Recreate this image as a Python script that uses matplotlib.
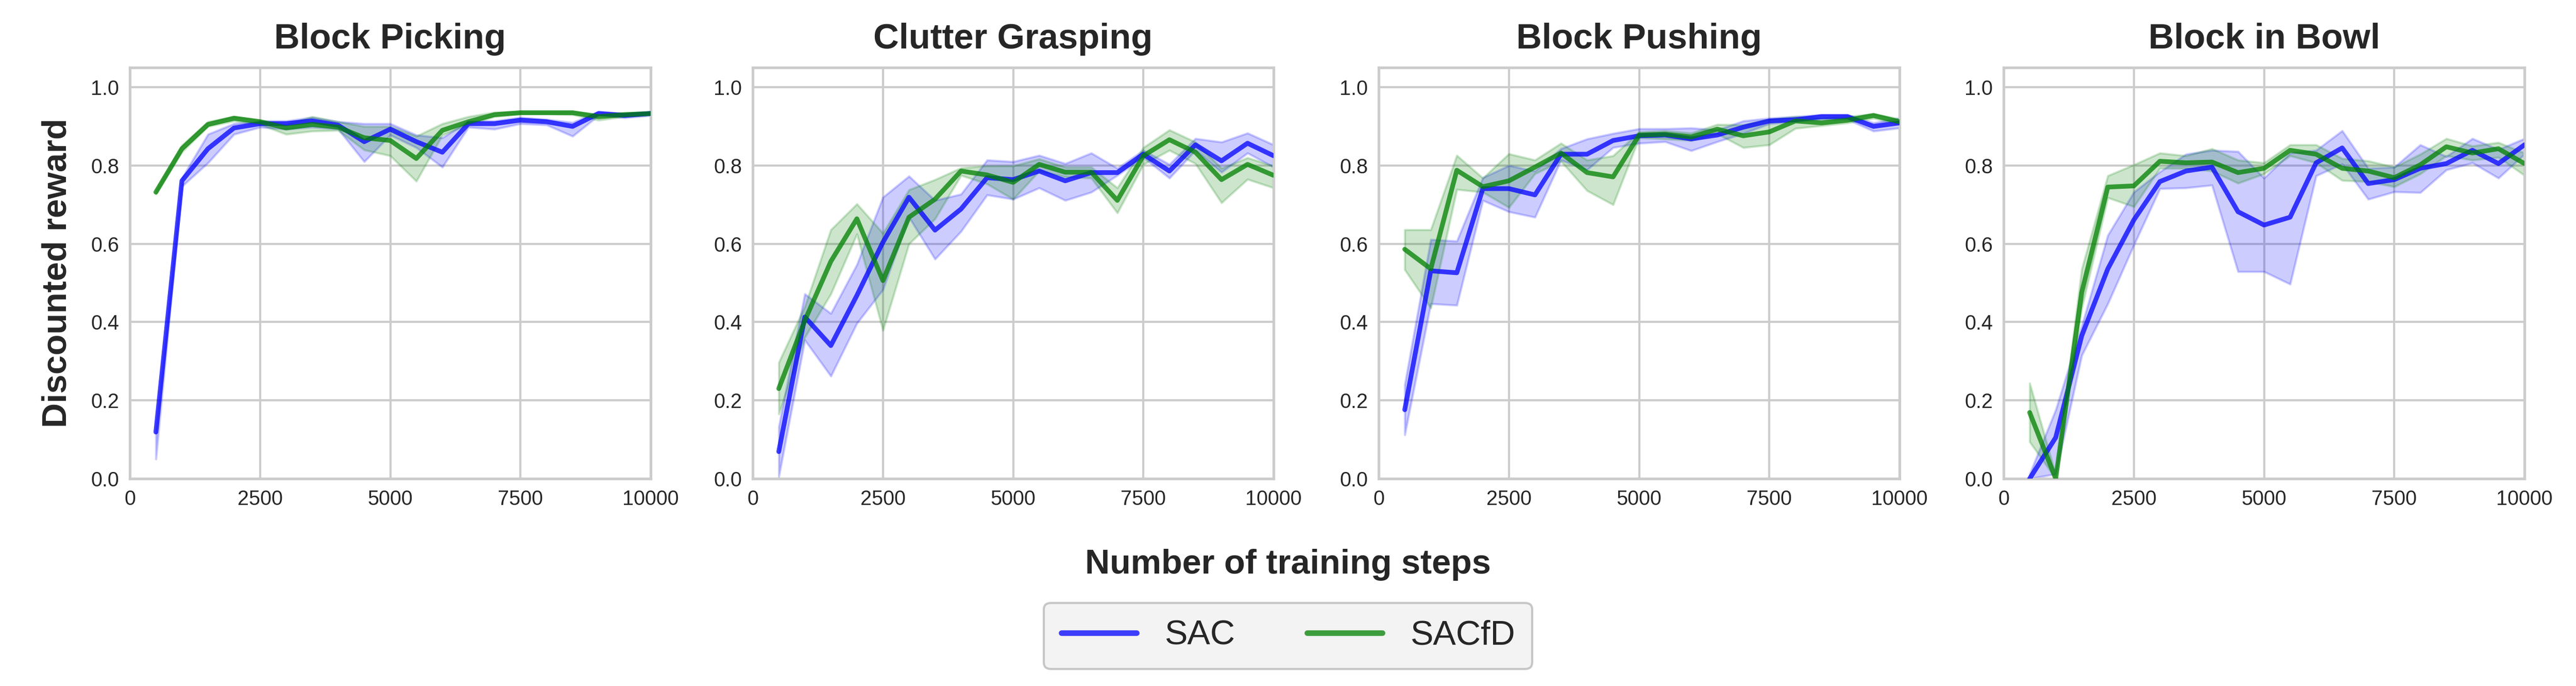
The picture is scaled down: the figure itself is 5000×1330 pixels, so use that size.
import numpy as np
import matplotlib
matplotlib.use("Agg")
import matplotlib.pyplot as plt

steps = [500, 1000, 1500, 2000, 2500, 3000, 3500, 4000, 4500, 5000,
         5500, 6000, 6500, 7000, 7500, 8000, 8500, 9000, 9500, 10000]

titles = ["Block Picking", "Clutter Grasping", "Block Pushing", "Block in Bowl"]

# ---- Block Picking ----
bp_sac = [0.119, 0.761, 0.843, 0.896, 0.907, 0.907, 0.914, 0.903, 0.861, 0.893,
          0.861, 0.834, 0.907, 0.907, 0.916, 0.912, 0.900, 0.933, 0.928, 0.933]
bp_sac_lo = [0.050, 0.747, 0.807, 0.880, 0.898, 0.893, 0.898, 0.893, 0.810, 0.878,
             0.846, 0.796, 0.898, 0.893, 0.907, 0.904, 0.875, 0.928, 0.922, 0.928]
bp_sac_hi = [0.125, 0.768, 0.880, 0.907, 0.914, 0.914, 0.923, 0.912, 0.907, 0.907,
             0.878, 0.871, 0.914, 0.914, 0.923, 0.918, 0.910, 0.938, 0.933, 0.938]
bp_sfd = [0.732, 0.843, 0.905, 0.921, 0.912, 0.896, 0.905, 0.898, 0.871, 0.864,
          0.818, 0.890, 0.912, 0.930, 0.935, 0.935, 0.935, 0.925, 0.930, 0.933]
bp_sfd_lo = [0.727, 0.835, 0.900, 0.914, 0.905, 0.880, 0.888, 0.890, 0.840, 0.825,
             0.760, 0.878, 0.905, 0.925, 0.932, 0.932, 0.930, 0.916, 0.925, 0.930]
bp_sfd_hi = [0.737, 0.852, 0.912, 0.925, 0.916, 0.905, 0.925, 0.912, 0.900, 0.900,
             0.875, 0.907, 0.925, 0.936, 0.938, 0.938, 0.938, 0.930, 0.935, 0.936]

# ---- Clutter Grasping ----
cg_sac = [0.069, 0.413, 0.340, 0.468, 0.604, 0.719, 0.635, 0.689, 0.769, 0.764,
          0.786, 0.761, 0.782, 0.782, 0.829, 0.786, 0.853, 0.812, 0.857, 0.825]
cg_sac_lo = [0.005, 0.354, 0.262, 0.397, 0.483, 0.668, 0.561, 0.632, 0.725, 0.714,
             0.743, 0.711, 0.732, 0.775, 0.821, 0.768, 0.839, 0.783, 0.832, 0.796]
cg_sac_hi = [0.133, 0.472, 0.422, 0.547, 0.719, 0.773, 0.711, 0.727, 0.814, 0.810,
             0.826, 0.805, 0.832, 0.793, 0.839, 0.803, 0.869, 0.860, 0.883, 0.853]
cg_sfd = [0.230, 0.404, 0.555, 0.664, 0.506, 0.668, 0.714, 0.786, 0.776, 0.757,
          0.803, 0.783, 0.783, 0.711, 0.825, 0.866, 0.834, 0.764, 0.803, 0.775]
cg_sfd_lo = [0.165, 0.361, 0.472, 0.625, 0.379, 0.600, 0.664, 0.775, 0.753, 0.714,
             0.786, 0.771, 0.768, 0.679, 0.803, 0.839, 0.805, 0.705, 0.765, 0.743]
cg_sfd_hi = [0.297, 0.440, 0.636, 0.702, 0.627, 0.738, 0.764, 0.794, 0.799, 0.799,
             0.817, 0.796, 0.796, 0.743, 0.846, 0.891, 0.860, 0.793, 0.820, 0.799]

# ---- Block Pushing ----
bu_sac = [0.176, 0.531, 0.526, 0.741, 0.741, 0.725, 0.829, 0.829, 0.864, 0.876,
          0.878, 0.868, 0.878, 0.898, 0.914, 0.917, 0.925, 0.925, 0.900, 0.909]
bu_sac_lo = [0.112, 0.447, 0.443, 0.711, 0.682, 0.668, 0.814, 0.789, 0.846, 0.857,
             0.861, 0.838, 0.861, 0.882, 0.907, 0.912, 0.918, 0.918, 0.888, 0.896]
bu_sac_hi = [0.240, 0.611, 0.607, 0.769, 0.800, 0.786, 0.843, 0.868, 0.882, 0.894,
             0.894, 0.896, 0.891, 0.914, 0.921, 0.925, 0.930, 0.930, 0.909, 0.921]
bu_sfd = [0.586, 0.536, 0.788, 0.746, 0.761, 0.796, 0.832, 0.782, 0.771, 0.878,
          0.880, 0.873, 0.893, 0.876, 0.886, 0.914, 0.909, 0.916, 0.928, 0.912]
bu_sfd_lo = [0.534, 0.436, 0.739, 0.732, 0.693, 0.779, 0.811, 0.736, 0.700, 0.871,
             0.868, 0.864, 0.881, 0.846, 0.853, 0.895, 0.902, 0.909, 0.921, 0.905]
bu_sfd_hi = [0.636, 0.636, 0.826, 0.768, 0.830, 0.814, 0.857, 0.814, 0.825, 0.886,
             0.889, 0.883, 0.905, 0.904, 0.918, 0.925, 0.921, 0.925, 0.932, 0.919]

# ---- Block in Bowl ----
bb_sac = [0.000, 0.105, 0.365, 0.536, 0.661, 0.759, 0.786, 0.796, 0.682, 0.648,
          0.668, 0.807, 0.845, 0.754, 0.764, 0.793, 0.805, 0.839, 0.805, 0.853]
bb_sac_lo = [0.000, 0.012, 0.315, 0.447, 0.597, 0.741, 0.743, 0.750, 0.529, 0.529,
             0.497, 0.774, 0.804, 0.714, 0.733, 0.731, 0.789, 0.807, 0.768, 0.829]
bb_sac_hi = [0.012, 0.176, 0.390, 0.622, 0.732, 0.784, 0.829, 0.839, 0.836, 0.768,
             0.832, 0.839, 0.889, 0.793, 0.796, 0.853, 0.823, 0.869, 0.841, 0.869]
bb_sfd = [0.169, 0.000, 0.476, 0.745, 0.748, 0.811, 0.807, 0.809, 0.782, 0.793,
          0.839, 0.829, 0.793, 0.786, 0.769, 0.802, 0.848, 0.832, 0.843, 0.805]
bb_sfd_lo = [0.094, 0.000, 0.436, 0.718, 0.695, 0.793, 0.793, 0.786, 0.755, 0.779,
             0.825, 0.807, 0.762, 0.759, 0.746, 0.779, 0.825, 0.814, 0.821, 0.775]
bb_sfd_hi = [0.244, 0.010, 0.536, 0.774, 0.802, 0.832, 0.825, 0.843, 0.814, 0.807,
             0.853, 0.853, 0.818, 0.812, 0.796, 0.829, 0.869, 0.850, 0.859, 0.832]

sac_series = [(bp_sac, bp_sac_lo, bp_sac_hi), (cg_sac, cg_sac_lo, cg_sac_hi),
              (bu_sac, bu_sac_lo, bu_sac_hi), (bb_sac, bb_sac_lo, bb_sac_hi)]
sfd_series = [(bp_sfd, bp_sfd_lo, bp_sfd_hi), (cg_sfd, cg_sfd_lo, cg_sfd_hi),
              (bu_sfd, bu_sfd_lo, bu_sfd_hi), (bb_sfd, bb_sfd_lo, bb_sfd_hi)]

xticks = [0, 2500, 5000, 7500, 10000]
yticks = [0.0, 0.2, 0.4, 0.6, 0.8, 1.0]

plt.rcParams['font.family'] = ['Liberation Sans', 'DejaVu Sans']

fig = plt.figure(figsize=(5000 / 300, 1330 / 300), dpi=300)
lefts = [0.0504, 0.2922, 0.5352, 0.7778]
width = 0.2022
bottom = 0.3023
height = 0.599

grid_c = '#cccccc'
text_c = '#262626'
handles = None
for i in range(4):
    ax = fig.add_axes([lefts[i], bottom, width, height])
    ax.set_facecolor('white')
    x = np.array(steps)
    m, lo, hi = sac_series[i]
    l1, = ax.plot(x, m, color='blue', alpha=0.75, lw=2.2, label='SAC',
                  solid_capstyle='round', zorder=3)
    ax.fill_between(x, lo, hi, color='blue', alpha=0.2, zorder=2)
    m, lo, hi = sfd_series[i]
    l2, = ax.plot(x, m, color='green', alpha=0.75, lw=2.2, label='SACfD',
                  solid_capstyle='round', zorder=3)
    ax.fill_between(x, lo, hi, color='green', alpha=0.2, zorder=2)
    handles = [l1, l2]
    ax.set_xlim(0, 10000)
    ax.set_ylim(0, 1.05)
    ax.set_xticks(xticks)
    ax.set_yticks(yticks)
    ax.set_xticklabels([str(t) for t in xticks])
    ax.set_yticklabels([f"{t:.1f}" for t in yticks])
    ax.grid(True, color=grid_c, lw=1.0, zorder=0)
    ax.set_axisbelow(True)
    for s in ax.spines.values():
        s.set_color(grid_c)
        s.set_linewidth(1.25)
    ax.tick_params(axis='both', length=0, labelsize=9.5, labelcolor=text_c, pad=5)
    ax.set_title(titles[i], fontsize=16.5, fontweight='bold', color=text_c, pad=9)
    if i == 0:
        ax.set_ylabel('Discounted reward', fontsize=16, fontweight='bold',
                      color=text_c, labelpad=8)

fig.text(0.5, 0.177, 'Number of training steps', ha='center', va='center',
         fontsize=16, fontweight='bold', color=text_c)
leg = fig.legend(handles, ['SAC', 'SACfD'], loc='center', bbox_to_anchor=(0.5, 0.073),
                 ncol=2, fontsize=16, frameon=True, fancybox=True,
                 handlelength=2.2, handletextpad=0.8, columnspacing=2.1,
                 borderpad=0.5)
leg.get_frame().set_facecolor('#f0f0f0')
leg.get_frame().set_edgecolor('#bbbbbb')
leg.get_frame().set_linewidth(1.0)
for t in leg.get_texts():
    t.set_color(text_c)
for h in leg.legend_handles:
    h.set_linewidth(2.6)

fig.savefig('out.png', dpi=300, facecolor='white')
